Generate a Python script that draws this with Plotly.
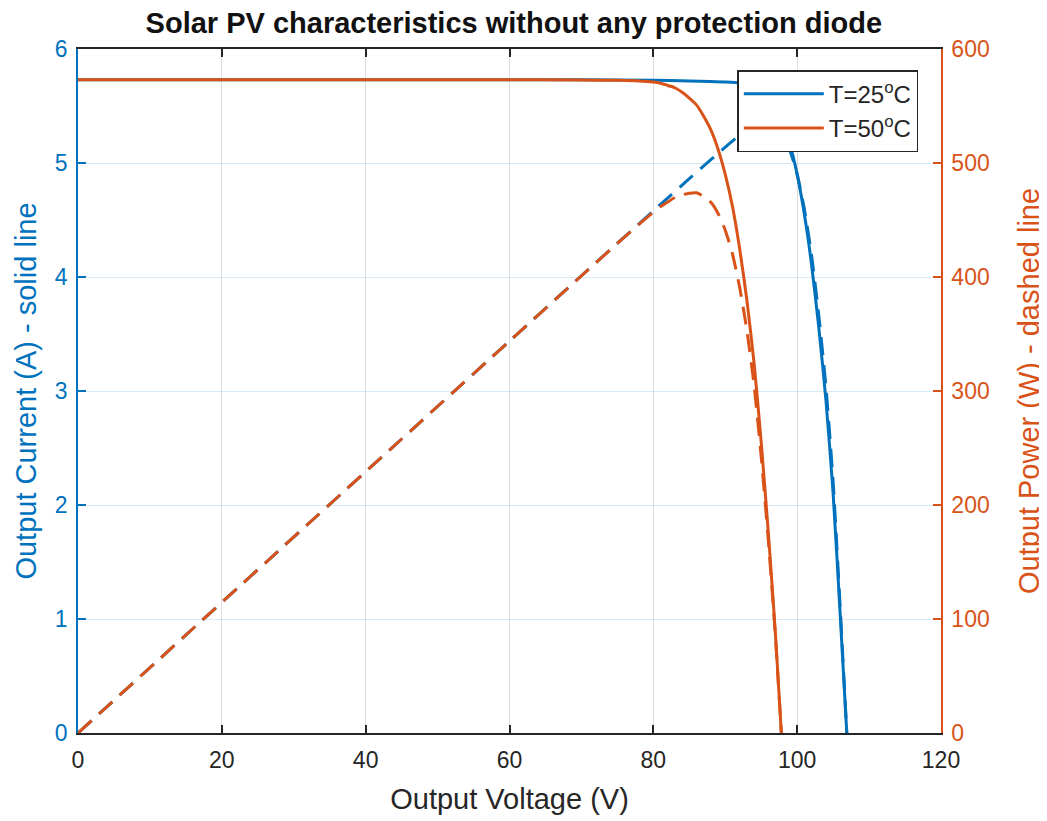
import plotly.graph_objects as go

# ---- data ----
v25 = [0, 60, 70, 80, 85, 88, 90, 92, 93, 94, 95, 96, 97, 98, 99, 100, 101, 102, 103, 104, 105, 106, 106.9]
i25 = [5.73, 5.73, 5.73, 5.725, 5.72, 5.715, 5.71, 5.70, 5.68, 5.66, 5.62, 5.56, 5.47, 5.35, 5.16, 4.90, 4.55, 4.11, 3.56, 2.92, 2.10, 1.02, 0]
p25 = [0, 343.8, 401.1, 458.0, 486.2, 502.9, 513.9, 524.4, 528.2, 532.0, 533.9, 533.8, 530.6, 524.3, 510.8, 490.0, 459.6, 419.2, 366.7, 303.7, 220.5, 108.1, 0]

v50 = [0, 60, 70, 75, 78, 80, 81, 82, 83, 84, 85, 86, 87, 88, 89, 90, 91, 92, 93, 94, 95, 96, 97, 97.8]
i50 = [5.73, 5.73, 5.728, 5.725, 5.72, 5.71, 5.70, 5.68, 5.66, 5.62, 5.57, 5.51, 5.41, 5.29, 5.12, 4.90, 4.62, 4.25, 3.80, 3.25, 2.55, 1.75, 0.85, 0]
p50 = [0, 343.8, 401.0, 429.4, 446.2, 456.8, 461.7, 465.8, 469.8, 472.1, 473.5, 473.9, 470.7, 465.5, 455.7, 441.0, 420.4, 391.0, 353.4, 305.5, 242.3, 168.0, 82.5, 0]

x_ticks = [0, 20, 40, 60, 80, 100, 120]
i_ticks = [0, 1, 2, 3, 4, 5, 6]
p_ticks = [0, 100, 200, 300, 400, 500, 600]

title = "Solar PV characteristics without any protection diode"
names = ["T=25<sup>o</sup>C", "T=50<sup>o</sup>C"]

BLUE = "#0072BD"
ORANGE = "#D95319"
DARK = "#262626"
FONT = "Liberation Sans, Arial, sans-serif"

fig = go.Figure()
fig.add_trace(go.Scatter(x=v25, y=i25, mode="lines", name=names[0],
                         line=dict(color=BLUE, width=3, shape="spline", smoothing=0.6), yaxis="y"))
fig.add_trace(go.Scatter(x=v50, y=i50, mode="lines", name=names[1],
                         line=dict(color=ORANGE, width=3, shape="spline", smoothing=0.6), yaxis="y"))
fig.add_trace(go.Scatter(x=v25, y=p25, mode="lines", showlegend=False,
                         line=dict(color=BLUE, width=3, dash="18px,10px", shape="spline", smoothing=0.6), yaxis="y2"))
fig.add_trace(go.Scatter(x=v50, y=p50, mode="lines", showlegend=False,
                         line=dict(color=ORANGE, width=3, dash="18px,10px", shape="spline", smoothing=0.6), yaxis="y2"))

fig.update_layout(
    width=1039, height=813,
    margin=dict(l=70, r=106, t=41, b=88, autoexpand=False),
    paper_bgcolor="white", plot_bgcolor="white",
    font=dict(family=FONT, size=22, color=DARK),
    title=dict(text="<b>" + title + "</b>", x=0.505, xref="paper", xanchor="center",
               y=0.9815, yref="container", yanchor="middle",
               font=dict(family=FONT, size=29, color="#111111")),
    showlegend=True,
    legend=dict(x=0.764, y=0.969, xanchor="left", yanchor="top",
                bgcolor="white", bordercolor=DARK, borderwidth=1.5,
                font=dict(family=FONT, size=24, color=DARK),
                itemwidth=80, tracegroupgap=0),
    xaxis=dict(range=[0, 120], tickvals=x_ticks, ticktext=[str(t) for t in x_ticks],
               showline=True, linecolor=DARK, linewidth=1.5, mirror="ticks",
               ticks="inside", ticklen=8, tickcolor=DARK, tickwidth=1.5,
               showgrid=True, gridcolor="rgba(38,38,38,0.15)", gridwidth=1,
               zeroline=False, tickfont=dict(size=23, color=DARK),
               ticklabelstandoff=6, automargin=False,
               title=dict(text="Output Voltage (V)", font=dict(size=29, color=DARK), standoff=16)),
    yaxis=dict(range=[0, 6], tickvals=i_ticks, ticktext=[str(t) for t in i_ticks],
               showline=True, linecolor=BLUE, linewidth=1.5,
               ticks="inside", ticklen=8, tickcolor=BLUE, tickwidth=1.5,
               showgrid=True, gridcolor="rgba(0,114,189,0.15)", gridwidth=1,
               zeroline=False, tickfont=dict(size=23, color=BLUE),
               ticklabelstandoff=4, automargin=False,
               title=dict(text="Output Current (A) - solid line", font=dict(size=29, color=BLUE), standoff=10)),
    yaxis2=dict(range=[0, 600], tickvals=p_ticks, ticktext=[str(t) for t in p_ticks],
                overlaying="y", side="right", anchor="x",
                showline=True, linecolor=ORANGE, linewidth=1.5,
                ticks="inside", ticklen=8, tickcolor=ORANGE, tickwidth=1.5,
                showgrid=False, zeroline=False, tickfont=dict(size=23, color=ORANGE),
                ticklabelstandoff=4, automargin=False,
                title=dict(text="Output Power (W) - dashed line", font=dict(size=29, color=ORANGE), standoff=30)),
)

fig.write_html("out.html")
